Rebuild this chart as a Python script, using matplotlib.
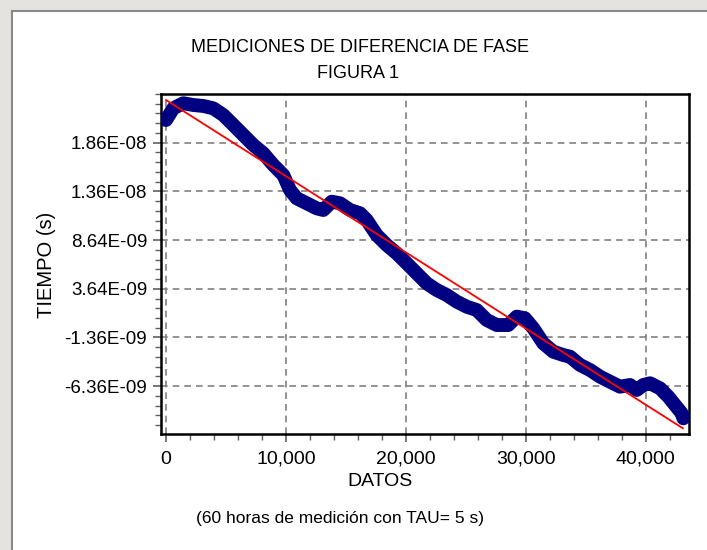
import numpy as np
import matplotlib.pyplot as plt
from matplotlib.patches import Rectangle
from matplotlib.ticker import MultipleLocator, FixedLocator, FuncFormatter

plt.rcParams['font.family'] = ['Liberation Sans', 'DejaVu Sans']

# phase difference readings (x = sample index, y = time in ns)
datos = [0, 609, 1443, 2277, 3111, 3945, 4779, 5613, 6447, 7281, 8115, 8949,
         9783, 10342, 10900, 11734, 12568, 13119, 13819, 14512, 15346, 16180,
         16738, 17572, 18406, 19240, 20074, 20908, 21742, 22576, 23410, 24244,
         25078, 25912, 26746, 27580, 28548, 29248, 29941, 30633, 31467, 32301,
         33135, 33694, 34528, 35362, 36196, 37030, 37864, 38698, 39256, 39807,
         40366, 41200, 41892, 42451, 43010, 43150]
tiempo_ns = [20.97, 22.17, 22.69, 22.51, 22.41, 22.17, 21.48, 20.46, 19.43,
             18.40, 17.55, 16.35, 15.32, 13.78, 12.93, 12.42, 11.90, 11.73,
             12.58, 12.42, 11.73, 11.39, 10.70, 9.16, 8.14, 7.28, 6.26, 5.23,
             4.20, 3.52, 3.00, 2.32, 1.80, 1.46, 0.44, -0.08, -0.08, 0.78, 0.61,
             -0.42, -1.96, -2.82, -3.16, -3.33, -4.18, -4.70, -5.38, -5.90,
             -6.41, -6.24, -6.75, -6.24, -6.06, -6.58, -7.44, -8.29, -9.14, -9.66]

# linear fit shown in red (end points)
ajuste_x = [0, 43100]
ajuste_ns = [23.02, -10.68]

y_ticks = [1.864e-8, 1.364e-8, 8.64e-9, 3.64e-9, -1.36e-9, -6.36e-9]

tiempo = np.array(tiempo_ns) * 1e-9
ajuste = np.array(ajuste_ns) * 1e-9

W, H = 707, 550
fig = plt.figure(figsize=(W / 100, H / 100), dpi=100, facecolor='#e4e3df')

# window frame of the screenshot
fig.patches.append(Rectangle((13 / W, 0), 1 - 13 / W, 1 - 12 / H, transform=fig.transFigure,
                             facecolor='white', edgecolor='none', zorder=-5))
fig.add_artist(plt.Line2D([12 / W, 12 / W], [0, 1 - 11 / H], transform=fig.transFigure,
                          color='#8a8a88', lw=1.5, zorder=-4))
fig.add_artist(plt.Line2D([12 / W, 1], [1 - 11 / H, 1 - 11 / H], transform=fig.transFigure,
                          color='#8a8a88', lw=1.5, zorder=-4))

ax = fig.add_axes([161 / W, 1 - 434 / H, 528 / W, 340 / H])
ax.set_zorder(2)
ax.plot(datos, tiempo, color='#000080', lw=10, solid_joinstyle='round',
        solid_capstyle='round', zorder=3)
ax.plot(ajuste_x, ajuste, color='#ff0000', lw=1.3, zorder=4)

ax.set_xlim(-417, 43618)
ax.set_ylim(-1.127e-8, 2.364e-8)

ax.xaxis.set_major_locator(MultipleLocator(10000))
ax.xaxis.set_minor_locator(MultipleLocator(2000))
ax.xaxis.set_major_formatter(FuncFormatter(lambda v, p: f"{v:,.0f}"))
ax.yaxis.set_major_locator(FixedLocator(y_ticks))
ax.yaxis.set_minor_locator(FixedLocator(np.arange(-1.136e-8, 2.37e-8, 1e-9)))
ax.yaxis.set_major_formatter(FuncFormatter(lambda v, p: f"{v:.2E}"))

ax.grid(True, which='major', color='#808080', linestyle=(0, (4, 3)), lw=1.2)
ax.tick_params(which='major', direction='out', length=6, width=1.2, color='#606060',
               labelsize=14, pad=4)
ax.tick_params(axis='y', which='major', labelsize=13.5)
ax.tick_params(axis='x', which='major', pad=6)
ax.tick_params(which='minor', direction='out', length=4, width=1, color='#606060')
for s in ax.spines.values():
    s.set_linewidth(1.8)
    s.set_color('black')

fig.text(360 / W, 1 - 48 / H, "MEDICIONES DE DIFERENCIA DE FASE", ha='center', va='center',
         fontsize=13)
fig.text(358 / W, 1 - 74 / H, "FIGURA 1", ha='center', va='center', fontsize=13)
fig.text(47 / W, 1 - 265 / H, "TIEMPO (s)", ha='center', va='center', rotation=90,
         fontsize=14.5)
fig.text(380 / W, 1 - 481 / H, "DATOS", ha='center', va='center', fontsize=14)
fig.text(340 / W, 1 - 518 / H, "(60 horas de medición con TAU= 5 s)", ha='center',
         va='center', fontsize=12.5)

plt.savefig("out.png", dpi=100, facecolor=fig.get_facecolor())
